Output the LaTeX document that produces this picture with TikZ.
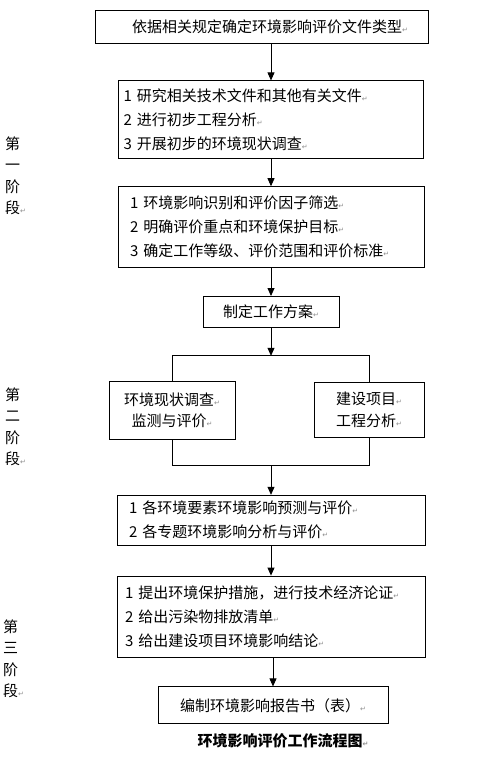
\documentclass[tikz,border=0pt]{standalone}
\usepackage{fontspec}
\usepackage{tikz}
\usetikzlibrary{arrows.meta,positioning}
\newfontfamily\cjk{Noto Sans CJK SC}
\newfontfamily\symfont{DejaVu Sans}
\newcommand\retmark{{\symfont\fontsize{7pt}{7pt}\selectfont\textcolor{black!45}{↵}}}
\tikzset{box/.style={draw,line width=0.8pt,font=\cjk\fontsize{15pt}{24pt}\selectfont,inner ysep=0pt}, listbox/.style={box,align=left,text width=#1}, pairbox/.style={box,align=center,font=\cjk\fontsize{15pt}{21.5pt}\selectfont}, arrow/.style={-{Triangle[length=8pt,width=7pt]},line width=0.8pt}, link/.style={line width=0.8pt}, phase/.style={font=\cjk\fontsize{15pt}{21.5pt}\selectfont,align=left,anchor=west,inner sep=0pt}}
\begin{document}
\begin{tikzpicture}[x=1pt,y=1pt]
\useasboundingbox (0,0) rectangle (486,-763);
\node[box,minimum width=333pt,minimum height=33pt,align=left,text width=319pt,inner xsep=7pt] (b1) at (261.5,-26.5) {\hspace*{30pt}依据相关规定确定环境影响评价文件类型\retmark};
\node[listbox=295pt,inner xsep=5pt,minimum height=78pt,below=37pt of b1,xshift=9.5pt] (b2) {1 研究相关技术文件和其他有关文件\retmark\\2 进行初步工程分析\retmark\\3 开展初步的环境现状调查\retmark};
\node[listbox=282pt,inner xsep=12pt,minimum height=81pt,below=27pt of b2] (b3) {1 环境影响识别和评价因子筛选\retmark\\2 明确评价重点和环境保护目标\retmark\\3 确定工作等级、评价范围和评价标准\retmark};
\node[box,minimum width=136pt,minimum height=31pt,below=28pt of b3] (b4) {制定工作方案\retmark};
\coordinate[below=28pt of b4] (split);
\node[pairbox,minimum width=126pt,minimum height=58pt,below=53pt of b4,xshift=-99pt] (env) {环境现状调查\retmark\\监测与评价\retmark};
\node[pairbox,minimum width=110pt,minimum height=55pt,below=54pt of b4,xshift=98pt] (proj) {建设项目\retmark\\工程分析\retmark};
\coordinate[below=26pt of env] (joinl);
\coordinate (joinr) at (proj |- joinl);
\coordinate (join) at (b4 |- joinl);
\node[listbox=284pt,inner xsep=12pt,minimum height=50pt,below=167pt of b4] (b5) {1 各环境要素环境影响预测与评价\retmark\\2 各专题环境影响分析与评价\retmark};
\node[listbox=292pt,inner xsep=8pt,minimum height=81pt,below=30pt of b5] (b6) {1 提出环境保护措施，进行技术经济论证\retmark\\2 给出污染物排放清单\retmark\\3 给出建设项目环境影响结论\retmark};
\node[box,minimum width=230pt,minimum height=37pt,below=29pt of b6,xshift=2pt] (b7) {编制环境影响报告书（表）\retmark};
\node[font=\cjk\bfseries\fontsize{15pt}{18pt}\selectfont,below=6pt of b7,xshift=10pt] (title) {环境影响评价工作流程图\retmark};
\node[phase] (phase1) at (5,-176) {第\\一\\阶\\段\retmark};
\node[phase] (phase2) at (5,-427) {第\\二\\阶\\段\retmark};
\node[phase] (phase3) at (3,-659) {第\\三\\阶\\段\retmark};
\foreach \src/\dst in {b1/b2,b2/b3,b3/b4,b5/b6,b6/b7}{\draw[arrow] (\src.south -| \dst.north)--(\dst.north);}
\draw[arrow] (b4)--(split);
\draw[link] (env.north) |- (split) -| (proj.north);
\draw[link] (env.south)--(joinl)--(joinr)--(proj.south);
\draw[arrow] (join)--(b5);
\end{tikzpicture}
\end{document}
